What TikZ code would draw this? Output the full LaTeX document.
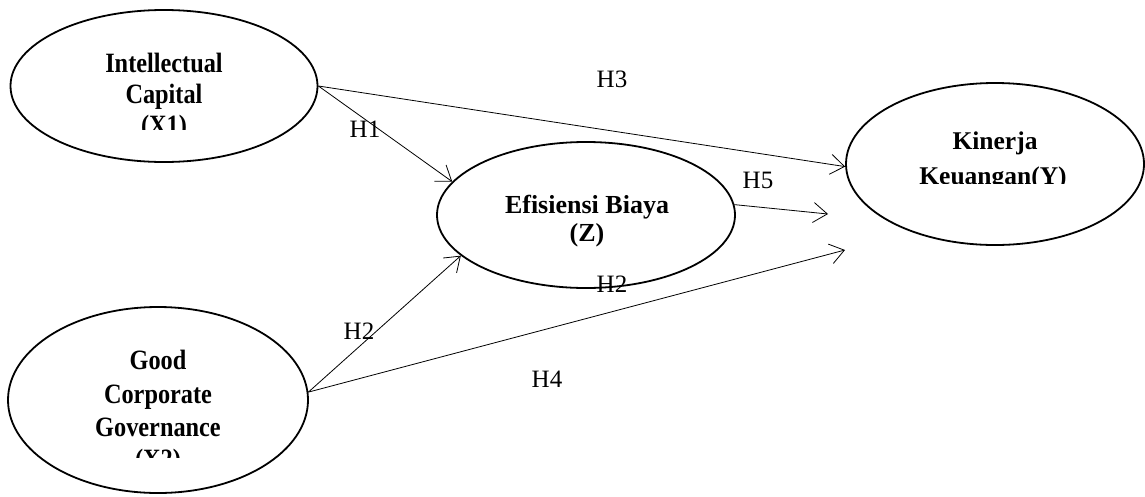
\documentclass[tikz,border=0pt]{standalone}
\usepackage{fontspec}
\setmainfont{Liberation Serif}
\usetikzlibrary{shapes.geometric,arrows.meta}
\newcommand{\tallbox}[1]{\scalebox{1}[1.15]{#1}}
\begin{document}
\begin{tikzpicture}[x=1pt,y=-1pt,
  latent/.style={draw, ellipse, line width=1.8pt, inner sep=0pt},
  lbl/.style={font=\fontsize{26}{30}\selectfont\bfseries, anchor=base, inner sep=0pt},
  tlbl/.style={font=\fontsize{24.3}{30}\selectfont\bfseries, anchor=base, inner sep=0pt},
  hyp/.style={font=\fontsize{25}{28}\selectfont, anchor=base, inner sep=0pt},
  conn/.style={line width=0.8pt, -{Straight Barb[length=14pt,width=20pt]}}]
\useasboundingbox (0,0) rectangle (1145,496);
% latent variables
\node[latent, minimum width=307pt, minimum height=152pt] (x1) at (164,86) {};
\node[latent, minimum width=298pt, minimum height=146pt] (z) at (586,215) {};
\node[latent, minimum width=298pt, minimum height=162pt] (y) at (995,164) {};
\node[latent, minimum width=300pt, minimum height=186pt] (x2) at (158,400) {};
% texts (last lines clipped as in the original)
\begin{scope}
  \clip (11,10) rectangle (318,129);
  \node[tlbl] (x1a) at (164,72) {\tallbox{Intellectual}};
  \node[tlbl] (x1b) at (164,103) {\tallbox{Capital}};
  \node[tlbl] (x1c) at (164,134) {\tallbox{(X1)}};
\end{scope}
\node[lbl] (za) at (587,213) {Efisiensi Biaya};
\node[lbl] (zb) at (587,241) {(Z)};
\begin{scope}
  \clip (846,84) rectangle (1144,183);
  \node[lbl, font=\fontsize{25.5}{30}\selectfont\bfseries] (ya) at (995,149) {Kinerja};
  \node[lbl, font=\fontsize{25.5}{30}\selectfont\bfseries] (yb) at (993,184) {Keuangan(Y)};
\end{scope}
\begin{scope}
  \clip (8,308) rectangle (308,457);
  \node[tlbl] (x2a) at (158,369) {\tallbox{Good}};
  \node[tlbl] (x2b) at (158,403) {\tallbox{Corporate}};
  \node[tlbl] (x2c) at (158,436) {\tallbox{Governance}};
  \node[tlbl] (x2d) at (158,468) {\tallbox{(X2)}};
\end{scope}
% free arrow ends
\coordinate (h5end) at (828,214);
\coordinate (x2yend) at (845,250);
% connectors
\draw[conn] (x1.east) -- (z.166);
\draw[conn] (x1.east) -- (y.181);
\draw[conn] (z.4) -- (h5end);
\draw[conn] (x2.3) -- (z.198);
\draw[conn] (x2.3) -- (x2yend);
% hypothesis labels
\node[hyp] (h1) at (365,137) {H1};
\node[hyp] (h3) at (612,87) {H3};
\node[hyp] (h5) at (758,188) {H5};
\node[hyp] (h2a) at (359,339) {H2};
\node[hyp] (h2b) at (612,292) {H2};
\node[hyp] (h4) at (547,387) {H4};
\end{tikzpicture}
\end{document}
